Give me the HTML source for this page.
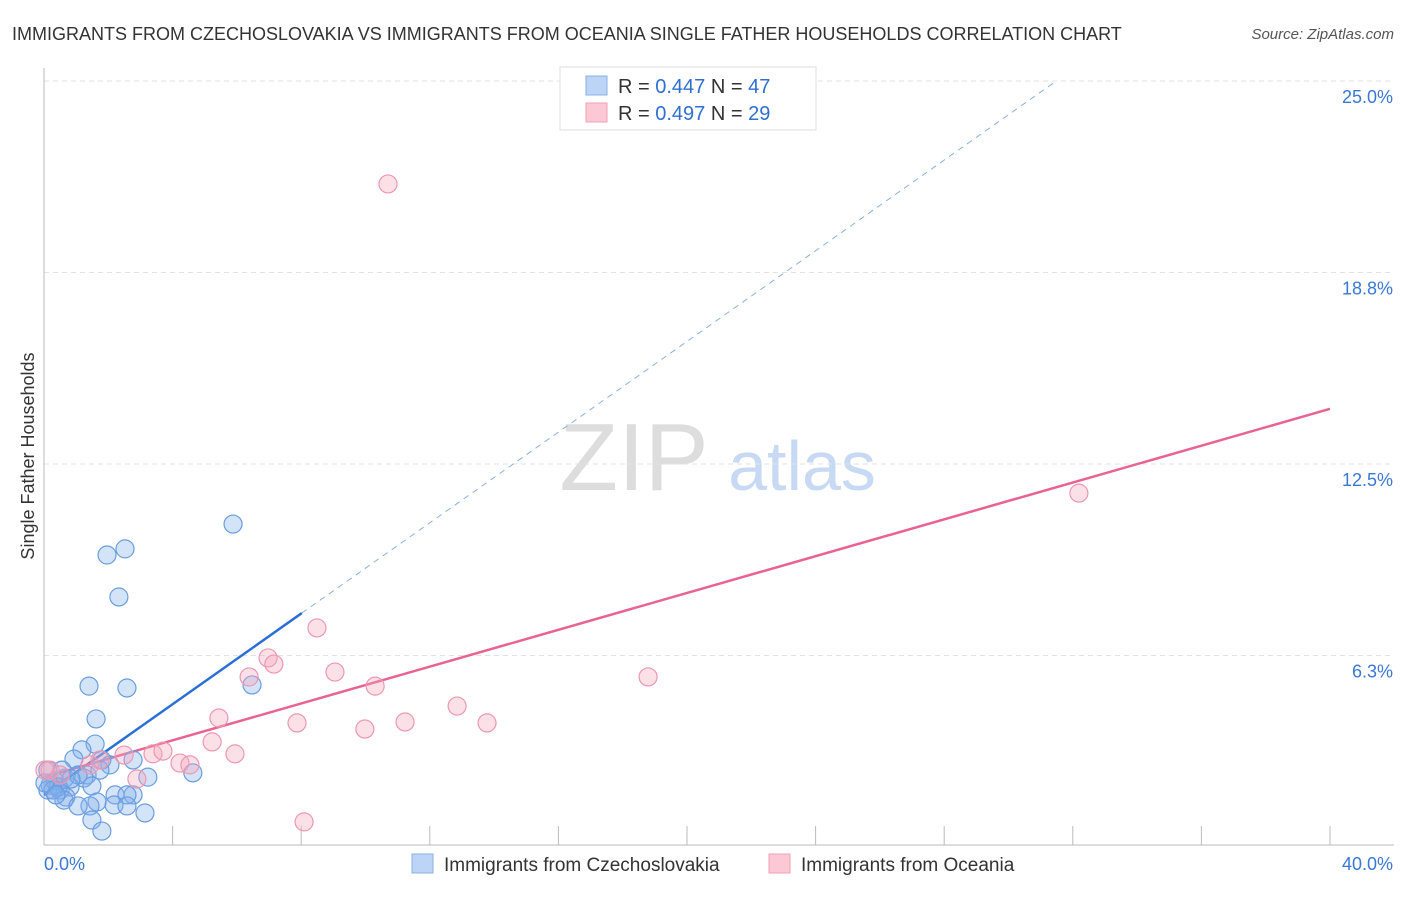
<!DOCTYPE html>
<html><head><meta charset="utf-8"><style>
body{margin:0;background:#fff;font-family:"Liberation Sans",sans-serif;}
svg text{font-family:"Liberation Sans",sans-serif;}
</style></head><body>
<svg id="chart" width="1406" height="892" xmlns="http://www.w3.org/2000/svg">
<text x="12" y="40" font-size="18" fill="#333">IMMIGRANTS FROM CZECHOSLOVAKIA VS IMMIGRANTS FROM OCEANIA SINGLE FATHER HOUSEHOLDS CORRELATION CHART</text>
<text x="1394" y="39" font-size="15" fill="#555" text-anchor="end" font-style="italic">Source: ZipAtlas.com</text>
<text transform="translate(34,456) rotate(-90)" font-size="18" fill="#333" text-anchor="middle">Single Father Households</text>
<g>
<text x="634" y="490" font-size="96" fill="#ddd" text-anchor="middle" font-family="Liberation Serif, serif">ZIP</text>
<text x="802" y="490" font-size="70" fill="#c8daf3" text-anchor="middle">atlas</text>
</g>
<g id="grid"></g>
<g id="axes"></g>
<g id="lines"></g>
<g id="points"></g>
<g>
<rect x="560" y="67" width="256" height="63" fill="#fff" stroke="#ddd"/>
<rect x="586" y="76" width="21" height="19" fill="#bcd4f5" stroke="#8ab0e6"/>
<rect x="586" y="103" width="21" height="19" fill="#fcc8d6" stroke="#f0a0b8"/>
<text x="618" y="93" font-size="20" fill="#333">R = <tspan fill="#2f6fd0">0.447</tspan>   N = <tspan fill="#2f6fd0">47</tspan></text>
<text x="618" y="120" font-size="20" fill="#333">R = <tspan fill="#2f6fd0">0.497</tspan>   N = <tspan fill="#2f6fd0">29</tspan></text>
</g>
<g>
<rect x="412" y="854" width="21" height="19" fill="#bcd4f5" stroke="#8ab0e6"/>
<text x="444" y="871" font-size="19" fill="#333">Immigrants from Czechoslovakia</text>
<rect x="769" y="854" width="21" height="19" fill="#fcc8d6" stroke="#f0a0b8"/>
<text x="801" y="871" font-size="19" fill="#333">Immigrants from Oceania</text>
</g>
</svg>
<script>
const yTicks=[6.25,12.5,18.75,25];
const yTickLabels=["6.3%","12.5%","18.8%","25.0%"];
const xTicks=[4,8,12,16,20,24,28,32,36,40];
const blueX=[5.88,2.52,1.96,2.33,1.40,2.58,6.47,1.62,1.59,1.18,0.93,1.80,2.05,2.77,3.23,4.63,1.34,1.24,0.65,0.34,0.19,0.50,0.81,0.12,0.44,0.68,1.49,0.62,2.21,2.77,2.58,2.18,2.58,1.65,1.43,1.06,1.49,3.14,1.80,0.12,0.56,1.06,0.28,0.84,0.03,0.37,1.74];
const blueY=[10.54,9.73,9.53,8.16,5.25,5.19,5.29,4.18,3.36,3.17,2.87,2.84,2.68,2.84,2.28,2.42,2.35,2.25,2.25,2.15,2.02,1.86,1.96,1.86,1.96,1.63,1.99,1.53,1.70,1.70,1.70,1.37,1.34,1.47,1.34,1.34,0.88,1.11,0.52,2.51,2.51,2.35,1.86,2.22,2.09,1.70,2.51];
const pinkX=[10.70,32.19,8.49,6.97,7.15,9.05,6.38,10.30,18.79,12.85,5.44,7.87,11.23,13.78,9.98,5.23,5.94,3.39,3.70,2.49,4.23,4.54,2.89,1.74,8.09,0.19,0.50,0.03,1.43];
const pinkY=[21.64,11.55,7.15,6.17,5.97,5.71,5.55,5.25,5.55,4.60,4.21,4.05,4.08,4.05,3.85,3.43,3.04,3.04,3.13,3.00,2.74,2.68,2.22,2.84,0.82,2.51,2.35,2.51,2.68];
const blueFit=[1.70,0.74];
const pinkFit=[2.28,0.3005];
const X=v=>44+v*32.15, Y=v=>847-v*30.64;
const NS="http://www.w3.org/2000/svg";
function mk(p,t,a){const e=document.createElementNS(NS,t);for(const k in a)e.setAttribute(k,a[k]);document.getElementById(p).appendChild(e);return e;}
yTicks.forEach((t,i)=>{
 const g=mk('grid','line',{x1:44,x2:1394,y1:Y(t),y2:Y(t),stroke:'#e2e2e2','stroke-dasharray':'5,4'});
 
 
 const l=mk('grid','text',{x:1393,y:Y(t)+22,'font-size':18,fill:'#3a78d4','text-anchor':'end'});
 l.textContent=yTickLabels[i];
 
 
});
const ax=mk('axes','line',{x1:44,x2:44,y1:68,y2:845,stroke:'#bbb'});


const bx=mk('axes','line',{x1:44,x2:1394,y1:845,y2:845,stroke:'#bbb'});


xTicks.forEach(t=>{
 const e=mk('axes','line',{x1:X(t),x2:X(t),y1:826,y2:845,stroke:'#bbb'});
 
 
});
const x0=mk('axes','text',{x:44,y:870,'font-size':18,fill:'#3a78d4'});x0.textContent='0.0%';


const x1=mk('axes','text',{x:1393,y:870,'font-size':18,fill:'#3a78d4','text-anchor':'end'});x1.textContent='40.0%';


function pts(xs,ys,fill,stroke,name){xs.forEach((x,i)=>{
 const c=mk('points','circle',{cx:X(x),cy:Y(ys[i]),r:9,fill:fill,stroke:stroke,'stroke-width':1.2});
 
 
});}
pts(blueX,blueY,'rgba(130,175,235,0.35)','#6a9de0','point-czechoslovakia');
pts(pinkX,pinkY,'rgba(245,165,190,0.35)','#ec98b2','point-oceania');
const bEnd=(25-blueFit[0])/blueFit[1];
const bl=mk('lines','line',{x1:X(0),y1:Y(blueFit[0]),x2:X(8.02),y2:Y(blueFit[0]+blueFit[1]*8.02),stroke:'#2a6fd6','stroke-width':2.5});


const bd=mk('lines','line',{x1:X(8.02),y1:Y(blueFit[0]+blueFit[1]*8.02),x2:X(bEnd),y2:Y(25),stroke:'#8ab0e0','stroke-width':1,'stroke-dasharray':'6,5'});


const pl=mk('lines','line',{x1:X(0),y1:Y(pinkFit[0]),x2:X(40),y2:Y(pinkFit[0]+pinkFit[1]*40),stroke:'#e8638f','stroke-width':2.5});


</script>
</body></html>
